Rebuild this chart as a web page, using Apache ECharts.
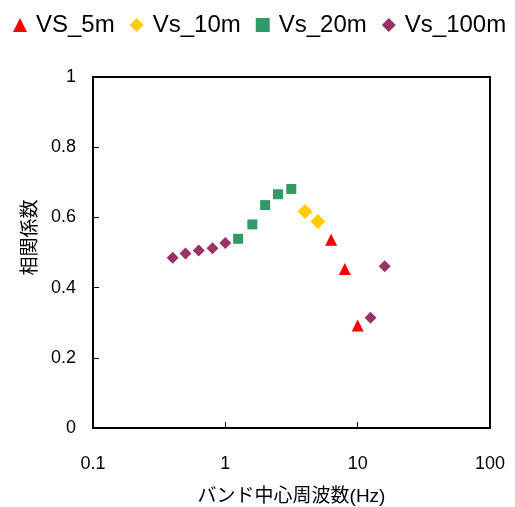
<!DOCTYPE html>
<html>
<head>
<meta charset="utf-8">
<script src="https://cdn.jsdelivr.net/npm/echarts@6/dist/echarts.min.js"></script>
<style>
  html, body { margin: 0; padding: 0; background: #fff; }
  #chart { width: 515px; height: 507px; }
</style>
</head>
<body>
<div id="chart"></div>
<script>
// Band centre frequencies (Hz) and correlation coefficients per Vs depth
const vs5Freq   = [6.3, 8, 10];
const vs5Corr   = [0.536, 0.453, 0.292];
const vs10Freq  = [4, 5];
const vs10Corr  = [0.617, 0.588];
const vs20Freq  = [1.25, 1.6, 2, 2.5, 3.15];
const vs20Corr  = [0.539, 0.580, 0.635, 0.666, 0.681];
const vs100Freq = [0.4, 0.5, 0.63, 0.8, 1.0, 12.5, 16];
const vs100Corr = [0.485, 0.497, 0.506, 0.512, 0.527, 0.314, 0.461];

const xTickLabels = ['0.1', '1', '10', '100'];
const yTicks = [0, 0.2, 0.4, 0.6, 0.8, 1];

const FONT = "'Liberation Sans', 'Noto Sans CJK JP', sans-serif";

const pairs = (xs, ys) => xs.map((x, i) => [x, ys[i]]);

const chart = echarts.init(document.getElementById('chart'), null, { renderer: 'canvas' });

const seriesDefs = [
  { name: 'VS_5m',   data: pairs(vs5Freq, vs5Corr),     symbol: 'triangle', size: 12, color: '#FF0000' },
  { name: 'Vs_10m',  data: pairs(vs10Freq, vs10Corr),   symbol: 'diamond',  size: 15, color: '#FFCC00' },
  { name: 'Vs_20m',  data: pairs(vs20Freq, vs20Corr),   symbol: 'rect',     size: 10, color: '#339966' },
  { name: 'Vs_100m', data: pairs(vs100Freq, vs100Corr), symbol: 'diamond',  size: 12, color: '#993366' }
];

chart.setOption({
  animation: false,
  backgroundColor: '#fff',
  textStyle: { fontFamily: FONT },
  legend: {
    left: 13,
    top: 13,
    width: 502,
    padding: 0,
    itemWidth: 14,
    itemHeight: 14,
    itemGap: 15,
    textStyle: { fontSize: 24, color: '#000', fontFamily: FONT, padding: [0, 0, 0, 4] },
    data: seriesDefs.map(s => ({ name: s.name, icon: s.symbol, itemStyle: { color: s.color } }))
  },
  grid: {
    left: 93, right: 25, top: 77, bottom: 79,
    outerBoundsMode: 'none',
    containLabel: false,
    show: true, borderColor: '#000', borderWidth: 2, backgroundColor: 'transparent'
  },
  xAxis: {
    type: 'log',
    logBase: 10,
    min: 0.1,
    max: 100,
    name: 'バンド中心周波数(Hz)',
    nameLocation: 'middle',
    nameGap: 59,
    nameTextStyle: { fontSize: 19, color: '#000', fontFamily: FONT },
    axisLine: { show: true, lineStyle: { color: '#000', width: 2 } },
    axisTick: { show: true, inside: true, length: 6, lineStyle: { color: '#000', width: 1 } },
    minorTick: { show: false },
    splitLine: { show: false },
    axisLabel: {
      fontSize: 18, color: '#000', margin: 27, fontFamily: FONT,
      formatter: v => {
        const k = Math.round(Math.log10(v)) + 1;
        return xTickLabels[k] !== undefined ? xTickLabels[k] : '';
      }
    }
  },
  yAxis: {
    type: 'value',
    min: yTicks[0],
    max: yTicks[yTicks.length - 1],
    interval: 0.2,
    name: '相関係数',
    nameLocation: 'middle',
    nameGap: 46,
    nameRotate: 90,
    nameTextStyle: { fontSize: 19, color: '#000', fontFamily: FONT, padding: [0, 0, 0, 30] },
    axisLine: { show: true, lineStyle: { color: '#000', width: 2 } },
    axisTick: { show: true, inside: true, length: 6, lineStyle: { color: '#000', width: 1 } },
    splitLine: { show: false },
    axisLabel: { fontSize: 18, color: '#000', margin: 17, fontFamily: FONT, padding: [10, 0, 0, 0],
      formatter: v => String(Math.round(v * 10) / 10) }
  },
  series: seriesDefs.map(s => ({
    name: s.name,
    type: 'scatter',
    data: s.data,
    symbol: s.symbol,
    symbolSize: s.size,
    itemStyle: { color: s.color, opacity: 1 },
    emphasis: { disabled: true }
  }))
});
</script>
</body>
</html>
